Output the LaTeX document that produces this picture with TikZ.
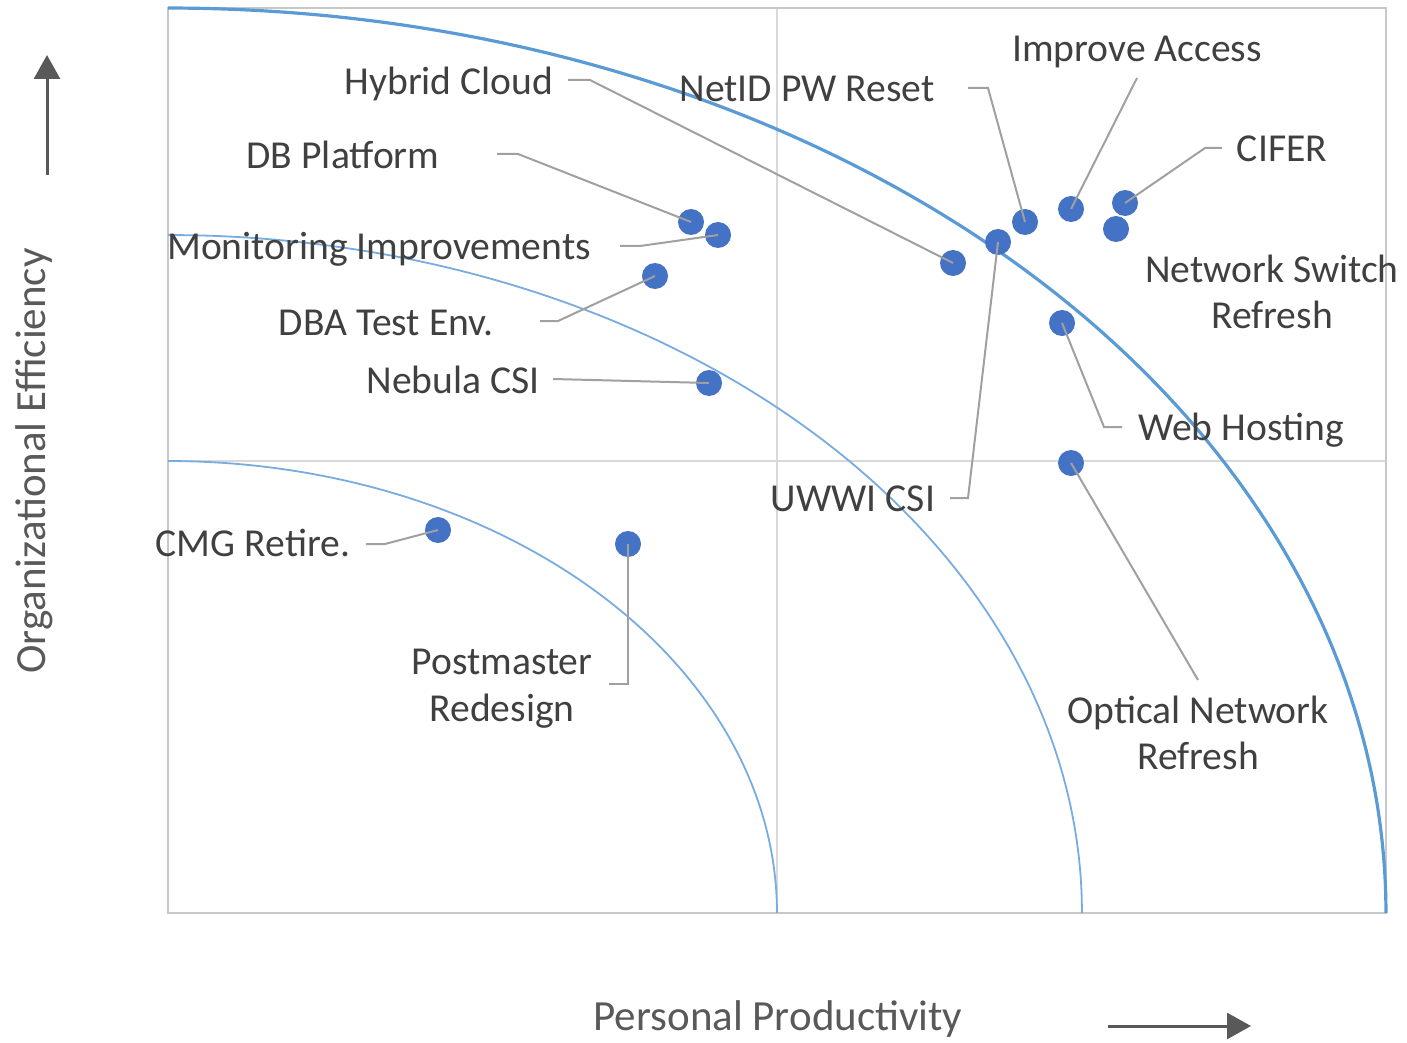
\documentclass[tikz,border=0pt]{standalone}
\usepackage{fontspec}
\setmainfont{Carlito}
\usetikzlibrary{arrows.meta}
\definecolor{dotblue}{RGB}{68,114,196}
\definecolor{leadgray}{RGB}{160,160,160}
\definecolor{curveblue}{RGB}{91,155,213}
\definecolor{curvelight}{RGB}{120,172,224}
\definecolor{framegray}{RGB}{200,200,200}
\definecolor{gridgray}{RGB}{217,217,217}
\definecolor{txtgray}{RGB}{64,64,64}
\definecolor{axgray}{RGB}{89,89,89}
\tikzset{
  dotpt/.style={circle, fill=dotblue, inner sep=0pt, minimum size=13pt},
  lbl/.style={inner sep=0pt, anchor=base, text=txtgray, font=\fontsize{19.8pt}{23.5pt}\selectfont},
  axlbl/.style={inner sep=0pt, anchor=base, text=axgray, font=\fontsize{21.5pt}{25pt}\selectfont},
  leader/.style={draw=leadgray, line width=1pt},
  curvemain/.style={draw=curveblue, line width=1.6pt},
  curvethin/.style={draw=curvelight, line width=0.9pt},
  axarrow/.style={draw=axgray, line width=1.5pt, -{Triangle[width=13pt,length=12pt]}}
}
\begin{document}
\begin{tikzpicture}[x=0.5pt,y=-0.5pt]
\useasboundingbox (0,0) rectangle (1407,1043);
% grid and frame
\draw[gridgray, line width=0.75pt] (777,8) -- (777,913);
\draw[gridgray, line width=0.75pt] (168,461) -- (1386,461);
\draw[framegray, line width=1pt] (168,8) rectangle (1386,913);
% curves
\draw[curvethin] plot[domain=0:90, samples=60, smooth] ({168+609*sin(\x)},{913-452*cos(\x)});
\draw[curvethin] plot[domain=0:90, samples=60, smooth] ({168+914*sin(\x)},{913-678*cos(\x)});
\draw[curvemain] plot[domain=0:90, samples=80, smooth] ({168+1218*sin(\x)},{913-905*cos(\x)});
% dots
\node[dotpt] (dDBP) at (691,222) {};
\node[dotpt] (dMON) at (718,235) {};
\node[dotpt] (dDBA) at (655,276) {};
\node[dotpt] (dNEB) at (709,383) {};
\node[dotpt] (dHC) at (953,263) {};
\node[dotpt] (dUW) at (998,242) {};
\node[dotpt] (dNET) at (1025,222) {};
\node[dotpt] (dIMP) at (1071,209) {};
\node[dotpt] (dCIF) at (1125,203) {};
\node[dotpt] (dNSR) at (1116,229) {};
\node[dotpt] (dWEB) at (1062,323) {};
\node[dotpt] (dOPT) at (1071,463) {};
\node[dotpt] (dCMG) at (438,530) {};
\node[dotpt] (dPM) at (628,544) {};
% labels
\node[lbl] (lHC) at (449,94.5) {Hybrid Cloud};
\node[lbl] (lDBP) at (343,168.5) {DB Platform};
\node[lbl] (lMON) at (379,259.5) {Monitoring Improvements};
\node[lbl] (lDBA) at (386,335.5) {DBA Test Env.};
\node[lbl] (lNEB) at (453,393.5) {Nebula CSI};
\node[lbl] (lNET) at (807,101.5) {NetID PW Reset};
\node[lbl] (lIMP) at (1137,61.5) {Improve Access};
\node[lbl] (lCIF) at (1282,161.5) {CIFER};
\node[lbl] (lNSRa) at (1272,282.5) {Network Switch};
\node[lbl] (lNSRb) at (1272,328.5) {Refresh};
\node[lbl] (lWEB) at (1241,440.5) {Web Hosting};
\node[lbl] (lUW) at (853,511.5) {UWWI CSI};
\node[lbl] (lOPTa) at (1198,723.5) {Optical Network};
\node[lbl] (lOPTb) at (1198,769.5) {Refresh};
\node[lbl] (lCMG) at (253,556.5) {CMG Retire.};
\node[lbl] (lPMa) at (502,674.5) {Postmaster};
\node[lbl] (lPMb) at (502,721.5) {Redesign};
% leader start points
\coordinate (sHC) at (568,80);
\coordinate (sDBP) at (497,154);
\coordinate (sMON) at (620,246);
\coordinate (sDBA) at (540,321);
\coordinate (sNEB) at (553,379);
\coordinate (sNET) at (968,88);
\coordinate (sIMP) at (1137,78);
\coordinate (sCIF) at (1222,148);
\coordinate (sWEB) at (1122,427);
\coordinate (sUW) at (950,498);
\coordinate (sOPT) at (1198,680);
\coordinate (sCMG) at (366,544);
\coordinate (sPM) at (609,684);
% leaders
\draw[leader] (sHC) -- ++(22,0) -- (dHC.center);
\draw[leader] (sDBP) -- ++(21,0) -- (dDBP.center);
\draw[leader] (sMON) -- ++(20,0) -- (dMON.center);
\draw[leader] (sDBA) -- ++(18,0) -- (dDBA.center);
\draw[leader] (sNEB) -- (dNEB.center);
\draw[leader] (sNET) -- ++(20,0) -- (dNET.center);
\draw[leader] (sIMP) -- (dIMP.center);
\draw[leader] (sCIF) -- ++(-17,0) -- (dCIF.center);
\draw[leader] (sWEB) -- ++(-18,0) -- (dWEB.center);
\draw[leader] (sUW) -- ++(18,0) -- (dUW.center);
\draw[leader] (sOPT) -- (dOPT.center);
\draw[leader] (sCMG) -- ++(19,0) -- (dCMG.center);
\draw[leader] (sPM) -- ++(19,0) -- (dPM.center);
% axes
\node[axlbl, rotate=90] (yt) at (45,461) {Organizational Efficiency};
\node[axlbl] (xt) at (778,1030) {Personal Productivity};
\coordinate (yaS) at (47,175);
\coordinate (yaE) at (47,55);
\coordinate (xaS) at (1108,1026);
\coordinate (xaE) at (1251,1026);
\draw[axarrow] (yaS) -- (yaE);
\draw[axarrow] (xaS) -- (xaE);
\end{tikzpicture}
\end{document}
